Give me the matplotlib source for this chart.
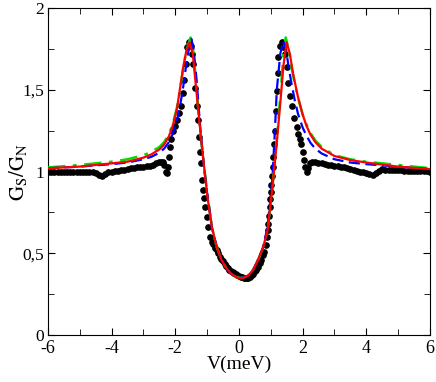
import matplotlib
matplotlib.use("Agg")
import matplotlib.pyplot as plt
from matplotlib.ticker import MultipleLocator

plt.rcParams['font.family'] = ['Liberation Serif', 'DejaVu Serif']
plt.rcParams['mathtext.fontset'] = 'stix'
plt.rcParams['axes.unicode_minus'] = False

# experimental data (black dots)
v_exp = [-6.0, -5.9, -5.8, -5.7, -5.6, -5.5, -5.4, -5.3, -5.2, -5.1, -5.0, -4.9, -4.8, -4.7,
         -4.6, -4.5, -4.4, -4.3, -4.2, -4.1, -4.0, -3.9, -3.8, -3.7, -3.6, -3.5, -3.4, -3.3,
         -3.2, -3.1, -3.0, -2.9, -2.8, -2.7, -2.6, -2.5, -2.45, -2.4, -2.35, -2.3, -2.25,
         -2.22, -2.19, -2.16, -2.12, -2.06, -2.0, -1.94, -1.88, -1.83, -1.77, -1.72, -1.66,
         -1.62, -1.58, -1.52, -1.47, -1.43, -1.38, -1.33, -1.28, -1.25, -1.22, -1.2, -1.17,
         -1.12, -1.1, -1.07, -1.01, -0.96, -0.91, -0.86, -0.8, -0.75, -0.7, -0.65, -0.6,
         -0.55, -0.5, -0.45, -0.4, -0.35, -0.3, -0.25, -0.2, -0.15, -0.1, -0.05, 0.0, 0.05,
         0.1, 0.15, 0.2, 0.25, 0.3, 0.35, 0.4, 0.45, 0.5, 0.55, 0.6, 0.65, 0.7, 0.75, 0.8,
         0.84, 0.87, 0.9, 0.92, 0.95, 0.97, 0.99, 1.0, 1.02, 1.03, 1.06, 1.08, 1.11, 1.13,
         1.15, 1.19, 1.22, 1.24, 1.29, 1.34, 1.4, 1.45, 1.5, 1.55, 1.6, 1.66, 1.74, 1.81,
         1.86, 1.92, 1.95, 2.0, 2.04, 2.08, 2.13, 2.18, 2.24, 2.3, 2.4, 2.5, 2.6, 2.7, 2.8,
         2.9, 3.0, 3.1, 3.2, 3.3, 3.4, 3.5, 3.6, 3.7, 3.8, 3.9, 4.0, 4.1, 4.2, 4.3, 4.4,
         4.5, 4.6, 4.7, 4.8, 4.9, 5.0, 5.1, 5.2, 5.3, 5.4, 5.5, 5.6, 5.7, 5.8, 5.9, 6.0]
g_exp = [1.0, 1.0, 1.0, 1.0, 1.0, 1.0, 1.0, 1.0, 1.0, 1.0, 1.0, 1.0, 1.0, 1.0,
         1.0, 0.99, 0.978, 0.975, 0.985, 0.995, 1.0, 1.002, 1.005, 1.008, 1.012, 1.016, 1.02, 1.022,
         1.025, 1.028, 1.03, 1.033, 1.036, 1.04, 1.05, 1.056, 1.058, 1.06, 1.04, 1.0, 0.99,
         1.03, 1.09, 1.15, 1.2, 1.25, 1.28, 1.315, 1.36, 1.40, 1.48, 1.56, 1.66,
         1.76, 1.79, 1.77, 1.72, 1.66, 1.51, 1.40, 1.315, 1.21, 1.12, 1.05, 0.95,
         0.89, 0.84, 0.785, 0.72, 0.66, 0.6, 0.57, 0.555, 0.535, 0.52, 0.5, 0.48,
         0.465, 0.45, 0.435, 0.42, 0.41, 0.4, 0.39, 0.385, 0.378, 0.372, 0.367, 0.362, 0.357,
         0.353, 0.35, 0.348, 0.347, 0.35, 0.355, 0.365, 0.375, 0.39, 0.4, 0.415, 0.44, 0.46, 0.49, 0.51,
         0.55, 0.6, 0.64, 0.68, 0.73, 0.785, 0.83, 0.875, 0.92, 0.97, 1.03, 1.09, 1.17, 1.25,
         1.37, 1.49, 1.6, 1.7, 1.77, 1.79, 1.76, 1.72, 1.64, 1.54, 1.46, 1.4, 1.325, 1.27,
         1.23, 1.2, 1.17, 1.12, 1.07, 1.03, 1.0, 1.02, 1.05, 1.06, 1.058, 1.055, 1.05, 1.045, 1.04,
         1.04, 1.035, 1.032, 1.03, 1.025, 1.02, 1.015, 1.01, 1.005, 1.0, 0.995, 0.988, 0.982, 0.98, 0.99, 1.005,
         1.013, 1.012, 1.011, 1.01, 1.009, 1.008, 1.007, 1.006, 1.006, 1.005, 1.004, 1.004, 1.003, 1.002, 1.001, 1.0]

# fit curves
v_red = [-6.0, -5.0, -4.0, -3.5, -3.0, -2.75, -2.5, -2.35, -2.2, -2.08, -1.95, -1.85, -1.75,
         -1.65, -1.55, -1.45, -1.35, -1.25, -1.15, -1.0, -0.85, -0.7, -0.55, -0.4, -0.25, -0.1,
         0.05, 0.15, 0.3, 0.45, 0.6, 0.75, 0.9, 1.05, 1.2, 1.3, 1.4, 1.5, 1.6, 1.7, 1.85, 2.0,
         2.12, 2.25, 2.4, 2.6, 3.0, 3.5, 4.0, 5.0, 6.0]
g_red = [1.02, 1.03, 1.05, 1.06, 1.085, 1.105, 1.135, 1.165, 1.215, 1.28, 1.38, 1.51, 1.64,
         1.74, 1.79, 1.72, 1.52, 1.32, 1.13, 0.86, 0.66, 0.54, 0.46, 0.41, 0.375, 0.355,
         0.347, 0.35, 0.365, 0.4, 0.46, 0.53, 0.64, 0.9, 1.2, 1.42, 1.65, 1.79, 1.72, 1.6, 1.46, 1.35,
         1.28, 1.225, 1.18, 1.14, 1.095, 1.07, 1.055, 1.03, 1.015]

v_green = [-6.0, -5.0, -4.0, -3.5, -3.0, -2.75, -2.5, -2.35, -2.2, -2.08, -1.95, -1.85, -1.75,
           -1.65, -1.52, -1.42, -1.33, -1.22, -1.1, -1.0, -0.85, -0.7, -0.55, -0.4, -0.25, -0.1,
           0.05, 0.15, 0.3, 0.45, 0.6, 0.75, 0.9, 1.05, 1.2, 1.3, 1.4, 1.47, 1.57, 1.67, 1.76,
           1.9, 2.0, 2.12, 2.25, 2.4, 2.6, 3.0, 3.5, 4.0, 5.0, 6.0]
g_green = [1.025, 1.04, 1.06, 1.075, 1.1, 1.12, 1.15, 1.18, 1.23, 1.29, 1.39, 1.5, 1.63,
           1.74, 1.82, 1.72, 1.5, 1.25, 1.04, 0.88, 0.66, 0.54, 0.46, 0.41, 0.375, 0.355,
           0.35, 0.352, 0.365, 0.4, 0.46, 0.53, 0.64, 0.9, 1.22, 1.46, 1.72, 1.82, 1.74, 1.62, 1.53,
           1.42, 1.35, 1.29, 1.235, 1.19, 1.15, 1.1, 1.075, 1.06, 1.04, 1.02]

v_blue = [-6.0, -5.0, -4.0, -3.5, -3.0, -2.75, -2.5, -2.35, -2.2, -2.08, -1.95, -1.85, -1.75,
          -1.65, -1.55, -1.49, -1.42, -1.33, -1.22, -1.1, -1.0, -0.85, -0.7, -0.55, -0.4, -0.25,
          -0.1, 0.05, 0.15, 0.3, 0.45, 0.6, 0.75, 0.9, 1.05, 1.13, 1.19, 1.3, 1.39, 1.48, 1.56,
          1.65, 1.76, 1.86, 2.0, 2.12, 2.25, 2.4, 2.6, 3.0, 3.5, 4.0, 5.0, 6.0]
g_blue = [1.02, 1.03, 1.045, 1.055, 1.075, 1.09, 1.115, 1.14, 1.18, 1.23, 1.31, 1.4, 1.52,
          1.66, 1.78, 1.81, 1.74, 1.56, 1.28, 1.03, 0.87, 0.66, 0.54, 0.46, 0.41, 0.375,
          0.355, 0.35, 0.352, 0.365, 0.4, 0.46, 0.53, 0.66, 0.95, 1.25, 1.5, 1.72, 1.80, 1.75, 1.64,
          1.54, 1.43, 1.35, 1.27, 1.22, 1.175, 1.14, 1.11, 1.075, 1.055, 1.045, 1.03, 1.015]

y_ticks = [0, 0.5, 1, 1.5, 2]
y_ticklabels = ['0', '0,5', '1', '1,5', '2']
x_ticks = [-6, -4, -2, 0, 2, 4, 6]

fig = plt.figure(figsize=(4.36, 3.82), dpi=100)
ax = fig.add_axes([0.110, 0.123, 0.876, 0.856])

ax.plot(v_exp, g_exp, linestyle='none', marker='o', markersize=3.8, color='black', zorder=2)
ax.plot(v_green, g_green, color='#00e000', linewidth=1.8, linestyle=(0, (7, 3, 1.5, 3)), zorder=3)
ax.plot(v_blue, g_blue, color='#0000ff', linewidth=1.6, linestyle=(0, (5, 2.5)), zorder=4)
ax.plot(v_red, g_red, color='#ff0000', linewidth=1.6, zorder=5)

ax.set_xlim(-6, 6)
ax.set_ylim(0, 2)
ax.set_xticks(x_ticks)
ax.set_yticks(y_ticks)
ax.set_yticklabels(y_ticklabels)
ax.xaxis.set_minor_locator(MultipleLocator(1))
ax.yaxis.set_minor_locator(MultipleLocator(0.25))
ax.tick_params(which='both', direction='in', top=True, right=True, labelsize=13)
ax.tick_params(axis='x', pad=3.5)
ax.tick_params(axis='y', labelsize=12.5, pad=3)
ax.tick_params(which='major', length=5)
ax.tick_params(which='minor', length=4)

ax.set_xlabel('V(meV)', fontsize=14, labelpad=-1)
ax.set_ylabel(r'$\mathrm{G_S/G_N}$', fontsize=15)
ax.yaxis.set_label_coords(-0.05, 0.5)

fig.savefig('out.png', dpi=100)
